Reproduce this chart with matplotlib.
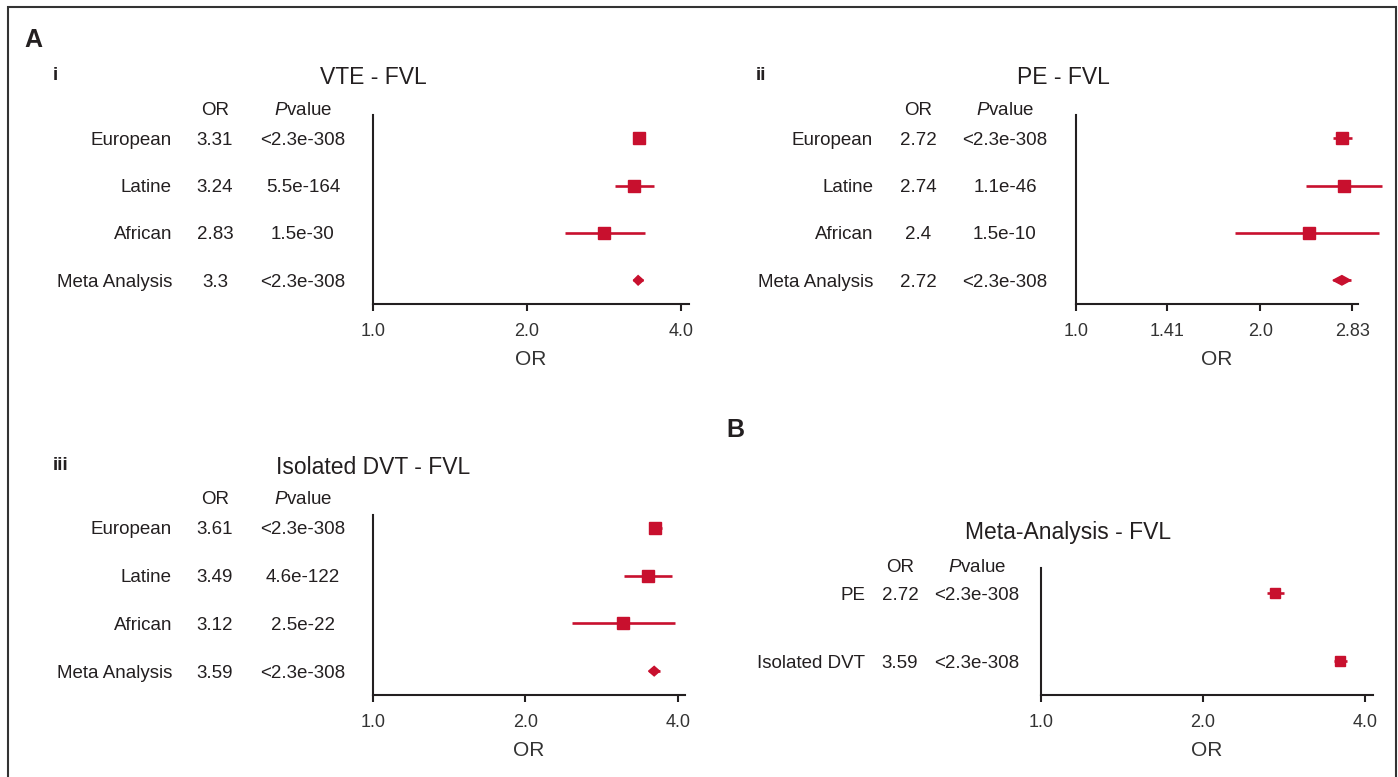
import matplotlib
matplotlib.use('Agg')
import matplotlib.pyplot as plt
import matplotlib.transforms as mtransforms
from matplotlib.patches import Polygon, Rectangle

# --- Dados ---
grupos = ['European', 'Latine', 'African', 'Meta Analysis']

# VTE - FVL
vte_or = [3.31, 3.24, 2.83, 3.3]
vte_lo = [3.25, 2.97, 2.37, 3.23]
vte_hi = [3.37, 3.54, 3.40, 3.38]
vte_or_txt = ['3.31', '3.24', '2.83', '3.3']
vte_p_txt = ['<2.3e-308', '5.5e-164', '1.5e-30', '<2.3e-308']

# PE - FVL
pe_or = [2.72, 2.74, 2.4, 2.72]
pe_lo = [2.63, 2.38, 1.82, 2.63]
pe_hi = [2.83, 3.16, 3.13, 2.81]
pe_or_txt = ['2.72', '2.74', '2.4', '2.72']
pe_p_txt = ['<2.3e-308', '1.1e-46', '1.5e-10', '<2.3e-308']

# Isolated DVT - FVL
dvt_or = [3.61, 3.49, 3.12, 3.59]
dvt_lo = [3.50, 3.13, 2.47, 3.50]
dvt_hi = [3.72, 3.89, 3.95, 3.68]
dvt_or_txt = ['3.61', '3.49', '3.12', '3.59']
dvt_p_txt = ['<2.3e-308', '4.6e-122', '2.5e-22', '<2.3e-308']

# Meta-Analysis - FVL (painel B)
meta_grupos = ['PE', 'Isolated DVT']
meta_or = [2.72, 3.59]
meta_lo = [2.63, 3.50]
meta_hi = [2.83, 3.70]
meta_or_txt = ['2.72', '3.59']
meta_p_txt = ['<2.3e-308', '<2.3e-308']

ticks_a = [1.0, 2.0, 4.0]
ticks_a_txt = ['1.0', '2.0', '4.0']
ticks_pe = [1.0, 1.41, 2.0, 2.83]
ticks_pe_txt = ['1.0', '1.41', '2.0', '2.83']

# --- Estilo ---
VERMELHO = '#c8102e'
PRETO = '#231f20'
FS = 13.5
plt.rcParams['font.family'] = ['Liberation Sans', 'DejaVu Sans']
plt.rcParams['mathtext.fontset'] = 'custom'
plt.rcParams['mathtext.rm'] = 'Liberation Sans'
plt.rcParams['mathtext.it'] = 'Liberation Sans:italic'

W, H = 1398, 777
fig = plt.figure(figsize=(W / 100, H / 100), dpi=100)


def px(x):
    return x / W


def novo_eixo(x0, x1, y0, y1):
    return fig.add_axes([x0 / W, 1 - y1 / H, (x1 - x0) / W, (y1 - y0) / H])


def forest(ax, nomes, ors, los, his, or_txt, p_txt, ticks, ticks_txt, xmax, ylim,
           x_nome, x_or, x_p, y_head, diamante=True, ms=9):
    n = len(nomes)
    ys = list(range(n))
    for i in range(n):
        ax.plot([los[i], his[i]], [ys[i], ys[i]], color=VERMELHO, lw=1.9,
                solid_capstyle='butt', clip_on=False, zorder=2)
        if diamante and i == n - 1:
            poly = Polygon([(los[i], ys[i]), (ors[i], ys[i] - 0.1), (his[i], ys[i]),
                            (ors[i], ys[i] + 0.1)], closed=True, color=VERMELHO,
                           clip_on=False, zorder=3)
            ax.add_patch(poly)
        else:
            ax.plot(ors[i], ys[i], marker='s', ms=ms, color=VERMELHO,
                    clip_on=False, zorder=3, lw=0)

    ax.set_xscale('log', base=2)
    ax.set_xlim(1.0, xmax)
    ax.set_ylim(*ylim)
    ax.set_xticks(ticks)
    ax.set_xticklabels(ticks_txt)
    ax.minorticks_off()
    ax.set_yticks([])
    for lado in ['top', 'right']:
        ax.spines[lado].set_visible(False)
    for lado in ['left', 'bottom']:
        ax.spines[lado].set_linewidth(1.5)
        ax.spines[lado].set_color(PRETO)
    ax.tick_params(axis='x', direction='out', length=5, width=1.5, color=PRETO,
                   labelsize=13, labelcolor='#333333', pad=9)
    ax.set_xlabel('OR', fontsize=15, family=['Liberation Sans Narrow', 'Liberation Sans'],
                  color='#333333', labelpad=7)
    ax.patch.set_alpha(0)

    # colunas de texto (x em pixels da figura, y nos dados)
    tr = mtransforms.blended_transform_factory(fig.transFigure, ax.transData)
    ax.text(px(x_or), y_head, 'OR', transform=tr, ha='center', va='center_baseline',
            fontsize=FS, color=PRETO)
    ax.text(px(x_p), y_head, r'$\mathit{P}$value', transform=tr, ha='center',
            va='center_baseline', fontsize=FS, color=PRETO)
    for i in range(n):
        ax.text(px(x_nome), ys[i], nomes[i], transform=tr, ha='right', va='center_baseline',
                fontsize=FS, color=PRETO)
        ax.text(px(x_or), ys[i], or_txt[i], transform=tr, ha='center', va='center_baseline',
                fontsize=FS, color=PRETO)
        ax.text(px(x_p), ys[i], p_txt[i], transform=tr, ha='center', va='center_baseline',
                fontsize=FS, color=PRETO)


# --- Painel i: VTE ---
ax1 = novo_eixo(373, 689, 115, 304)
forest(ax1, grupos, vte_or, vte_lo, vte_hi, vte_or_txt, vte_p_txt, ticks_a, ticks_a_txt,
       4.15, (3.5, -0.49), 172, 215, 303, -0.62)

# --- Painel ii: PE ---
ax2 = novo_eixo(1076, 1358, 115, 304)
forest(ax2, grupos, pe_or, pe_lo, pe_hi, pe_or_txt, pe_p_txt, ticks_pe, ticks_pe_txt,
       2.89, (3.5, -0.49), 873, 918, 1005, -0.62)

# --- Painel iii: Isolated DVT ---
ax3 = novo_eixo(373, 685, 515, 695)
forest(ax3, grupos, dvt_or, dvt_lo, dvt_hi, dvt_or_txt, dvt_p_txt, ticks_a, ticks_a_txt,
       4.13, (3.5, -0.27), 172, 215, 303, -0.63)

# --- Painel B: Meta-analysis ---
ax4 = novo_eixo(1041, 1373, 568, 695)
forest(ax4, meta_grupos, meta_or, meta_lo, meta_hi, meta_or_txt, meta_p_txt, ticks_a,
       ticks_a_txt, 4.14, (1.5, -0.37), 865, 900, 977, -0.41, diamante=False, ms=7)

# --- Títulos e letras dos painéis ---
fig.text(px(373), 1 - 78 / H, 'VTE - FVL', ha='center', va='center', fontsize=16.5, color=PRETO)
fig.text(px(1063), 1 - 78 / H, 'PE - FVL', ha='center', va='center', fontsize=16.5, color=PRETO)
fig.text(px(373), 1 - 467 / H, 'Isolated DVT - FVL', ha='center', va='center', fontsize=16.5, color=PRETO)
fig.text(px(1068), 1 - 532 / H, 'Meta-Analysis - FVL', ha='center', va='center', fontsize=16.5, color=PRETO)

fig.text(px(24), 1 - 40 / H, 'A', ha='left', va='center', fontsize=18, weight='bold', color=PRETO)
fig.text(px(53), 1 - 76 / H, 'i', ha='left', va='center', fontsize=13.5, weight='bold', color=PRETO)
fig.text(px(756), 1 - 76 / H, 'ii', ha='left', va='center', fontsize=13.5, weight='bold', color=PRETO)
fig.text(px(53), 1 - 465 / H, 'iii', ha='left', va='center', fontsize=13.5, weight='bold', color=PRETO)
fig.text(px(726), 1 - 430 / H, 'B', ha='left', va='center', fontsize=18, weight='bold', color=PRETO)

# moldura (sem borda inferior visível)
fig.add_artist(Rectangle((px(8), -0.05), px(1388), 1.05 - 7 / H, transform=fig.transFigure,
                         fill=False, lw=1.5, ec='#333333'))

plt.savefig('out.png', dpi=100)
print("Figura salva em out.png")
